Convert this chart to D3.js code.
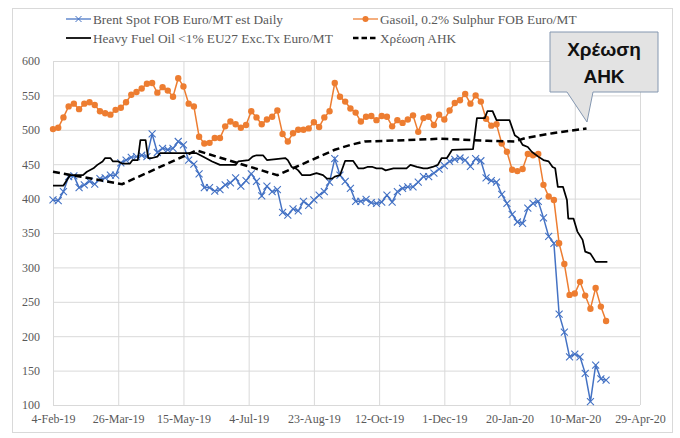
<!DOCTYPE html>
<html>
<head>
<meta charset="utf-8">
<script src="https://cdn.jsdelivr.net/npm/d3@7"></script>
<style>
  html, body { margin: 0; padding: 0; background: #ffffff; }
  svg { display: block; }
</style>
</head>
<body>
<svg id="chart" width="680" height="438"></svg>
<script>
// ---------- DATA ----------
const dates = ["2019-02-04","2019-02-08","2019-02-12","2019-02-16","2019-02-20","2019-02-24","2019-02-28","2019-03-04","2019-03-08","2019-03-12",
"2019-03-16","2019-03-20","2019-03-24","2019-03-28","2019-04-01","2019-04-05","2019-04-09","2019-04-13","2019-04-17","2019-04-21",
"2019-04-25","2019-04-29","2019-05-03","2019-05-07","2019-05-11","2019-05-15","2019-05-19","2019-05-23","2019-05-27","2019-05-31",
"2019-06-04","2019-06-08","2019-06-12","2019-06-16","2019-06-20","2019-06-24","2019-06-28","2019-07-02","2019-07-06","2019-07-10",
"2019-07-14","2019-07-18","2019-07-22","2019-07-26","2019-07-30","2019-08-03","2019-08-07","2019-08-11","2019-08-15","2019-08-19",
"2019-08-23","2019-08-27","2019-08-31","2019-09-04","2019-09-08","2019-09-12","2019-09-16","2019-09-20","2019-09-24","2019-09-28",
"2019-10-02","2019-10-06","2019-10-10","2019-10-14","2019-10-18","2019-10-22","2019-10-26","2019-10-30","2019-11-03","2019-11-07",
"2019-11-11","2019-11-15","2019-11-19","2019-11-23","2019-11-27","2019-12-01","2019-12-05","2019-12-09","2019-12-13","2019-12-17",
"2019-12-21","2019-12-25","2019-12-29","2020-01-02","2020-01-06","2020-01-10","2020-01-14","2020-01-18","2020-01-22","2020-01-26",
"2020-01-30","2020-02-03","2020-02-07","2020-02-11","2020-02-15","2020-02-19","2020-02-23","2020-02-27","2020-03-02","2020-03-06",
"2020-03-10","2020-03-14","2020-03-18","2020-03-22","2020-03-26","2020-03-30","2020-04-03"];

const brent = [398,397,410,432,433,416,420,425,421,429,
430,434,434,452,456,460,461,463,461,494,
467,473,471,473,483,478,456,450,436,416,
416,411,413,420,423,430,418,426,436,425,
404,418,410,413,380,376,385,382,396,390,
398,405,410,424,458,434,425,415,396,396,
399,394,393,395,405,395,410,415,417,417,
424,432,432,437,443,448,454,457,459,456,
447,458,455,430,426,424,406,393,377,366,
364,386,393,396,372,345,335,232,206,170,
174,170,146,105,158,138,136];

const gasoil = [501,503,518,534,538,530,538,540,536,527,
524,522,529,532,540,551,555,560,567,568,
554,562,557,548,575,563,538,534,490,480,
481,488,488,505,512,508,503,507,527,518,
508,515,519,528,494,483,495,500,500,502,
511,504,518,527,568,548,541,531,525,512,
519,520,514,520,519,505,514,510,515,521,
497,517,519,507,522,515,528,539,543,552,
538,550,541,516,506,508,480,468,442,440,
443,465,463,465,420,403,398,335,305,260,
262,279,259,240,270,243,222];

const hfoDates = ["2019-02-04","2019-02-12","2019-02-13","2019-02-17","2019-02-27","2019-03-02","2019-03-07","2019-03-10","2019-03-14","2019-03-16",
"2019-03-20","2019-03-22","2019-03-26","2019-03-29","2019-04-04","2019-04-06","2019-04-10","2019-04-12","2019-04-16","2019-04-17",
"2019-04-18","2019-04-21","2019-04-25","2019-04-27","2019-05-25","2019-05-28","2019-06-01","2019-06-06","2019-06-12","2019-06-24",
"2019-06-26","2019-07-04","2019-07-07","2019-07-10","2019-07-15","2019-07-18","2019-08-01","2019-08-03","2019-08-06","2019-08-09",
"2019-08-11","2019-08-14","2019-08-20","2019-08-25","2019-08-30","2019-09-02","2019-09-06","2019-09-08","2019-09-12","2019-09-16",
"2019-09-22","2019-09-26","2019-09-30","2019-10-03","2019-10-07","2019-10-10","2019-10-14","2019-10-17","2019-10-23","2019-11-02",
"2019-11-05","2019-11-10","2019-11-15","2019-11-18","2019-11-22","2019-11-26","2019-11-29","2019-12-03","2019-12-07","2019-12-23",
"2019-12-26","2020-01-01","2020-01-03","2020-01-07","2020-01-10","2020-01-20","2020-01-24","2020-01-27","2020-01-30","2020-02-03",
"2020-02-06","2020-02-11","2020-02-15","2020-02-19","2020-02-22","2020-02-24","2020-02-26","2020-03-01","2020-03-04","2020-03-05",
"2020-03-09","2020-03-12","2020-03-16","2020-03-18","2020-03-22","2020-03-26","2020-04-04"];

const hfo = [419,419,422,434,434,439,444,449,454,459,
459,454,454,451,451,456,456,485,485,471,
459,459,461,466,466,463,459,454,449,449,
454,456,461,463,463,456,459,456,446,444,
441,434,434,437,434,429,429,432,434,455,
455,444,444,446,446,444,444,441,444,444,
449,446,444,444,446,449,459,459,471,472,
517,517,527,527,514,514,492,488,478,475,
468,461,456,454,446,444,417,417,398,371,
371,352,340,323,320,308,308];

const ahkDates = ["2019-02-04","2019-03-29","2019-05-25","2019-07-26","2019-09-08","2019-09-20","2019-10-01","2019-11-02","2019-11-28","2020-01-03","2020-01-24","2020-02-01","2020-02-22","2020-03-19"];
const ahk = [439,421,470,434,471,478,483,485,487,484,483,488,495,502];

const yTicks = [100,150,200,250,300,350,400,450,500,550,600];
const xTickDates = ["2019-02-04","2019-03-26","2019-05-15","2019-07-04","2019-08-23","2019-10-12","2019-12-01","2020-01-20","2020-03-10","2020-04-29"];
const xTickLabels = ["4-Feb-19","26-Mar-19","15-May-19","4-Jul-19","23-Aug-19","12-Oct-19","1-Dec-19","20-Jan-20","10-Mar-20","29-Apr-20"];

const seriesNames = ["Brent Spot FOB Euro/MT est Daily","Gasoil, 0.2% Sulphur FOB Euro/MT","Heavy Fuel Oil <1% EU27 Exc.Tx Euro/MT","Χρέωση ΑΗΚ"];
const calloutLines = ["Χρέωση","ΑΗΚ"];

// ---------- DRAWING ----------
const parse = d3.timeParse("%Y-%m-%d");
const svg = d3.select("#chart");
const SERIF = "Liberation Serif";
const textCol = "#595959";
const gridCol = "#d9d9d9";
const blue = "#4472C4", orange = "#ED7D31";

const M = {left: 53, right: 640, top: 61, bottom: 405};

// chart frame
svg.append("rect").attr("x", 12.5).attr("y", 8.5).attr("width", 660).attr("height", 424)
  .attr("fill", "#fff").attr("stroke", gridCol).attr("stroke-width", 1);

const x = d3.scaleTime()
  .domain([parse(xTickDates[0]), parse(xTickDates[xTickDates.length - 1])])
  .range([M.left, M.right]);
const y = d3.scaleLinear().domain([100, 600]).range([M.bottom, M.top]);

// y axis with horizontal gridlines
const yAxis = svg.append("g").attr("transform", `translate(${M.left},0)`)
  .call(d3.axisLeft(y).tickValues(yTicks).tickSize(-(M.right - M.left)).tickPadding(13).tickFormat(d3.format("d")));
yAxis.attr("font-family", SERIF).attr("font-size", 12);
yAxis.select(".domain").remove();
yAxis.selectAll("line").attr("stroke", gridCol).attr("stroke-width", 1);
yAxis.selectAll("text").attr("font-family", SERIF).attr("font-size", 12).attr("fill", textCol);

// x axis with vertical gridlines
const xAxis = svg.append("g").attr("transform", `translate(0,${M.bottom})`)
  .call(d3.axisBottom(x).tickValues(xTickDates.map(parse)).tickSize(-(M.bottom - M.top)).tickPadding(9)
    .tickFormat((d, i) => xTickLabels[i]));
xAxis.attr("font-family", SERIF).attr("font-size", 12);
xAxis.select(".domain").remove();
xAxis.selectAll("line").attr("stroke", gridCol).attr("stroke-width", 1);
xAxis.selectAll("text").attr("font-family", SERIF).attr("font-size", 12).attr("fill", textCol);

const daily = dates.map((d, i) => ({d: parse(d), b: brent[i], g: gasoil[i]}));
const line = d3.line().x(p => x(p[0])).y(p => y(p[1]));

// Brent
const bPts = daily.map(p => [p.d, p.b]);
svg.append("path").attr("d", line(bPts)).attr("fill", "none").attr("stroke", blue).attr("stroke-width", 1.5);
svg.append("g").selectAll("path").data(bPts).join("path")
  .attr("transform", p => `translate(${x(p[0])},${y(p[1])})`)
  .attr("d", "M-3.5,-3.5L3.5,3.5M3.5,-3.5L-3.5,3.5").attr("stroke", blue).attr("stroke-width", 1.1).attr("fill", "none");

// Gasoil
const gPts = daily.map(p => [p.d, p.g]);
svg.append("path").attr("d", line(gPts)).attr("fill", "none").attr("stroke", orange).attr("stroke-width", 1.5);
svg.append("g").selectAll("circle").data(gPts).join("circle")
  .attr("cx", p => x(p[0])).attr("cy", p => y(p[1])).attr("r", 3.2).attr("fill", orange);

// Heavy fuel oil
const hPts = hfoDates.map((d, i) => [parse(d), hfo[i]]);
svg.append("path").attr("d", line(hPts)).attr("fill", "none").attr("stroke", "#000").attr("stroke-width", 1.75)
  .attr("stroke-linejoin", "round");

// AHK dashed
const aPts = ahkDates.map((d, i) => [parse(d), ahk[i]]);
svg.append("path").attr("d", line(aPts)).attr("fill", "none").attr("stroke", "#000").attr("stroke-width", 2.5)
  .attr("stroke-dasharray", "7,4");

// ---------- LEGEND ----------
const legendItems = [
  {name: seriesNames[0], x: 66, y: 19, kind: "x"},
  {name: seriesNames[1], x: 353, y: 19, kind: "o"},
  {name: seriesNames[2], x: 66, y: 38, kind: "solid"},
  {name: seriesNames[3], x: 353, y: 38, kind: "dash"}
];
const lg = svg.append("g");
legendItems.forEach(it => {
  const g = lg.append("g").attr("transform", `translate(${it.x},${it.y})`);
  if (it.kind === "x") {
    g.append("line").attr("x1", 0).attr("x2", 25).attr("stroke", blue).attr("stroke-width", 1.25);
    g.append("path").attr("d", "M9.5,-3L15.5,3M15.5,-3L9.5,3").attr("stroke", blue).attr("stroke-width", 1);
  } else if (it.kind === "o") {
    g.append("line").attr("x1", 0).attr("x2", 25).attr("stroke", orange).attr("stroke-width", 1.25);
    g.append("circle").attr("cx", 12.5).attr("r", 3).attr("fill", orange);
  } else if (it.kind === "solid") {
    g.append("line").attr("x1", 0).attr("x2", 25).attr("stroke", "#000").attr("stroke-width", 1.75);
  } else {
    g.append("line").attr("x1", 0).attr("x2", 25).attr("stroke", "#000").attr("stroke-width", 2.5)
      .attr("stroke-dasharray", "5.5,3");
  }
  g.append("text").attr("x", 27).attr("y", 0).attr("dy", "0.35em")
    .attr("font-family", SERIF).attr("font-size", 13.3)
    .attr("fill", textCol).text(it.name);
});

// ---------- CALLOUT ----------
const cb = {x0: 550, x1: 658, y0: 32, y1: 92, p0: 567, p1: 593, tipX: 587, tipY: 122};
svg.append("path")
  .attr("d", `M${cb.x0},${cb.y0}H${cb.x1}V${cb.y1}H${cb.p1}L${cb.tipX},${cb.tipY}L${cb.p0},${cb.y1}H${cb.x0}Z`)
  .attr("fill", "#e3e3e3").attr("stroke", "#8497b0").attr("stroke-width", 1);
svg.append("g").selectAll("text").data(calloutLines).join("text")
  .attr("x", (cb.x0 + cb.x1) / 2).attr("y", (d, i) => 56 + i * 27)
  .attr("text-anchor", "middle").attr("fill", "#111")
  .attr("font-family", "Liberation Sans").attr("font-weight", "bold").attr("font-size", 19)
  .text(d => d);
</script>
</body>
</html>
